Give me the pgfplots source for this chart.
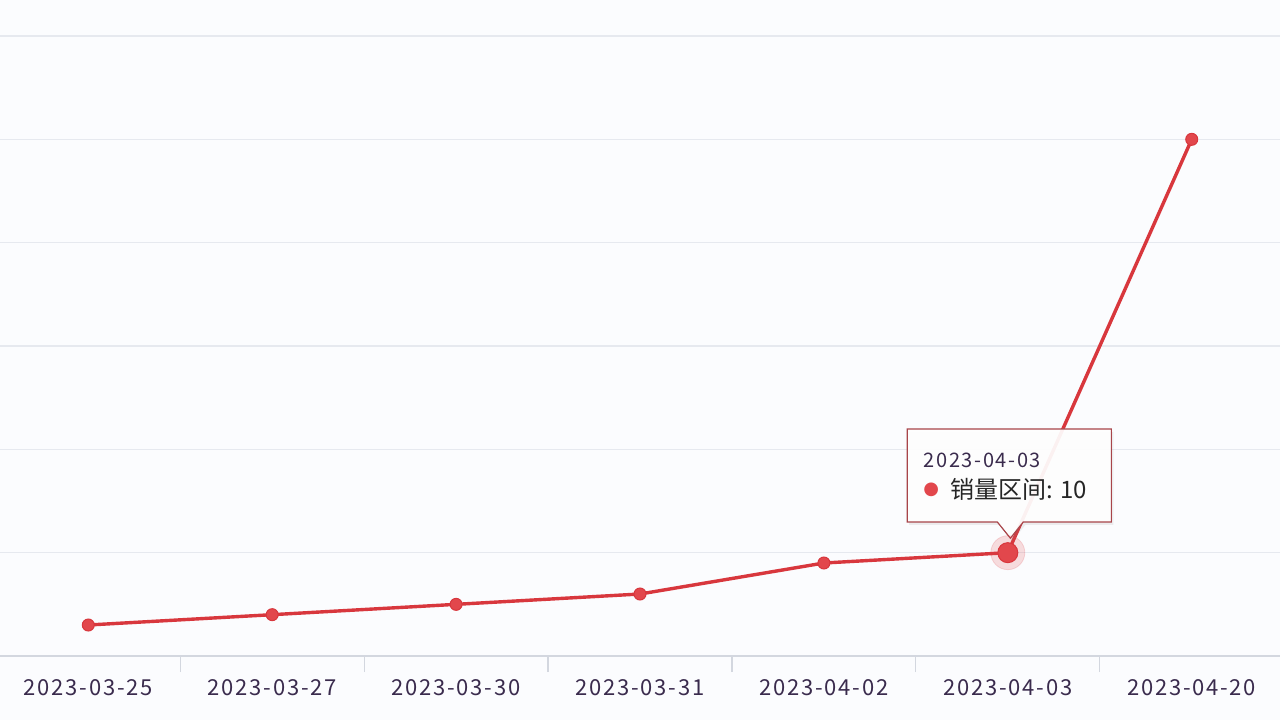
\documentclass[border=0pt]{standalone}
\usepackage{pgfplots}
\pgfplotsset{compat=1.18}
\usepackage{fontspec}
\usetikzlibrary{shadows}
\setmainfont{Noto Sans CJK SC}
\newfontfamily\tickfont[LetterSpace=8]{Noto Sans CJK SC}
\newfontfamily\symfont{DejaVu Sans}
\definecolor{bg}{HTML}{FBFCFE}
\definecolor{gridc}{HTML}{E6E9EF}
\definecolor{axisc}{HTML}{D3D7DF}
\definecolor{lab}{HTML}{3A2B4D}
\definecolor{linec}{HTML}{D8373D}
\definecolor{markc}{HTML}{E2474C}
\definecolor{tipb}{HTML}{A8454A}
\begin{document}
\begin{tikzpicture}
\fill[bg] (0,0) rectangle (640pt,360pt);
\useasboundingbox (0,0) rectangle (640pt,360pt);
\begin{axis}[
  at={(0pt,32pt)}, anchor=south west,
  scale only axis, width=640pt, height=310pt,
  xmin=-0.48, xmax=6.48, ymin=0, ymax=60,
  axis x line=bottom, axis y line=left,
  x axis line style={draw=axisc, line width=0.6pt, -},
  y axis line style={draw=none},
  ytick={10,20,30,40,50,60}, yticklabels={},
  ymajorgrids, grid style={draw=gridc, line width=0.6pt},
  major y tick style={draw=none},
  xtick={0,1,2,3,4,5,6},
  xticklabels={2023-03-25,2023-03-27,2023-03-30,2023-03-31,2023-04-02,2023-04-03,2023-04-20},
  minor xtick={0.5,1.5,2.5,3.5,4.5,5.5},
  tick align=outside,
  major tick length=8pt, minor tick length=8pt,
  major x tick style={draw=none},
  minor x tick style={draw=axisc, line width=0.6pt},
  xticklabel style={font=\tickfont\fontsize{11}{13}\selectfont, text=lab},
  clip=false,
]
\addplot[linec, line width=1.7pt, mark=*, mark size=3pt,
  mark options={fill=markc, draw=linec, line width=0.5pt}]
  coordinates {(0,3)(1,4)(2,5)(3,6)(4,9)(5,10)(6,50)};
\addplot[only marks, mark=*, mark size=8.5pt, color=markc, opacity=0.18]
  coordinates {(5,10)};
\addplot[only marks, mark=*, mark size=5pt,
  mark options={fill=markc, draw=linec, line width=0.5pt}]
  coordinates {(5,10)};
\draw[draw=tipb, fill=white, fill opacity=0.93, line width=0.6pt,
  drop shadow={opacity=0.12, shadow xshift=1pt, shadow yshift=-1.5pt}]
  (axis cs:4.453,21.97) -- (axis cs:5.563,21.97) -- (axis cs:5.563,12.97)
  -- (axis cs:5.084,12.97) -- (axis cs:5.014,11.4) -- (axis cs:4.943,12.97)
  -- (axis cs:4.453,12.97) -- cycle;
\node[anchor=west, inner sep=0pt, text=lab, font=\tickfont\fontsize{10}{12}\selectfont]
  at (axis cs:4.541,18.97) {2023-04-03};
\node[inner sep=0pt, text=markc, font=\symfont\fontsize{9}{11}\selectfont]
  at (axis cs:4.584,16.07) {●};
\node[anchor=west, inner sep=0pt, text=black!85, font=\fontsize{12}{14}\selectfont]
  at (axis cs:4.687,16.16) {销量区间: 10};
\end{axis}
\end{tikzpicture}
\end{document}
